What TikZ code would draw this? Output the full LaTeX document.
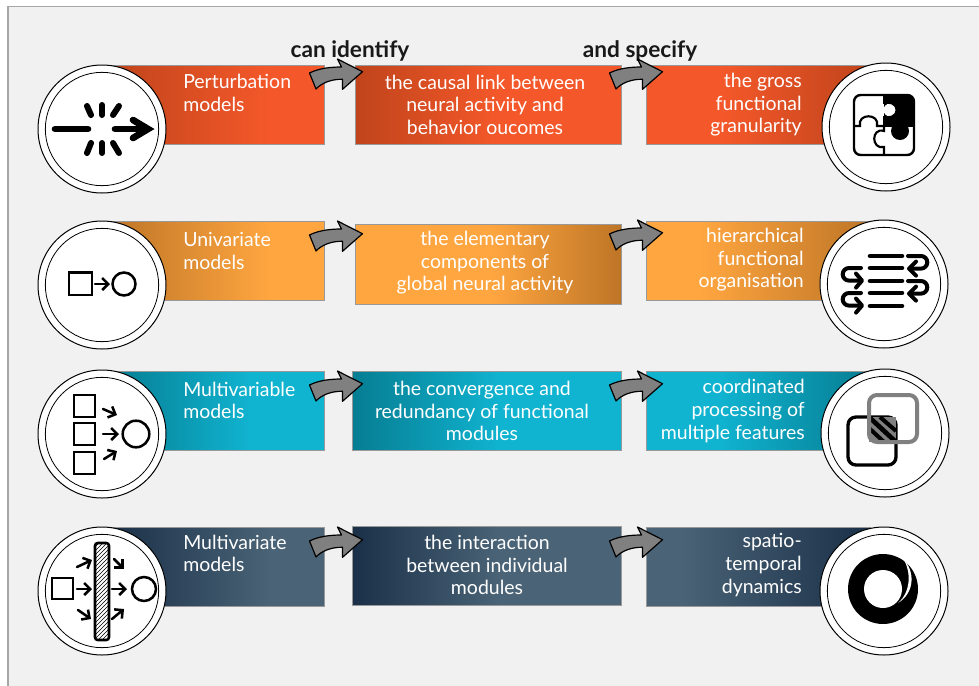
\documentclass[tikz,border=0pt]{standalone}
\usepackage{fontspec}
\setmainfont{Lato}
\usetikzlibrary{fit,patterns,arrows.meta}
\tikzset{
  boxnode/.style={draw=black!40,line width=0.6pt,fit=#1,inner sep=0pt},
  lbl/.style={text=white,font=\fontsize{14.6}{16.9}\selectfont,inner sep=0pt},
  head/.style={font=\fontsize{17}{18}\selectfont\bfseries,inner sep=0pt,text=black!90},
  ringout/.style={circle,draw=black,fill=white,line width=0.75pt,minimum size=96pt,inner sep=0pt},
  ringin/.style={circle,draw=black,line width=0.6pt,minimum size=85pt,inner sep=0pt},
  blockarr/.style={fill=black!50,draw=black,line width=0.9pt,line join=round},
  ico/.style={line width=1.9pt,draw=black},
  thick line/.style={line width=#1,line cap=round,draw=black},
  shaft/.style={line width=1.9pt,draw=black,line cap=round,-{Straight Barb[length=4.5pt,width=9pt,line width=1.9pt]}},
  uturn/.style={line width=3pt,draw=black,line cap=round,line join=round},
}
\definecolor{frame}{HTML}{A6A6A6}
\definecolor{redD}{HTML}{C0441B}\definecolor{redL}{HTML}{F4582A}
\definecolor{orD}{HTML}{BE7526}\definecolor{orL}{HTML}{FFA640}
\definecolor{teD}{HTML}{067D92}\definecolor{teL}{HTML}{10B3D0}
\definecolor{naD}{HTML}{1A3048}\definecolor{naL}{HTML}{4A6376}
% name, x1,y1,x2,y2, gradient start x, gradient end x, colour at start, colour at end
\newcommand{\gbox}[9]{%
  \coordinate (#1-a) at (#2,#3);\coordinate (#1-b) at (#4,#5);
  \fill[#8] (#2,#3) rectangle (#6,#5);
  \shade[left color=#8,right color=#9] (#6,#3) rectangle (#7,#5);
  \fill[#9] (#7,#3) rectangle (#4,#5);
  \node[boxnode={(#1-a)(#1-b)}] (#1) {};
}
\newcommand{\rings}[3]{%
  \node[ringout] (#1) at (#2,#3) {};
  \node[ringin] (#1-in) at (#2,#3) {};
}
\newcommand{\blockarrow}[3]{%
  \coordinate (#1) at (#2,#3);
  \draw[blockarr,shift={(#1)}] (0,0) .. controls (10,-5) and (22,-6) .. (32,-6)
    -- (28,-14) -- (53,-1.3) -- (33,16.3) -- (33,6.3)
    .. controls (22,6) and (12,10) .. (6.5,16) -- cycle;
}
\begin{document}
\begin{tikzpicture}[x=0.75pt,y=-0.75pt]
\clip (0,0) rectangle (979,686);
\fill[white] (0,0) rectangle (979,686);
\draw[frame,fill=black!5.5,line width=1.1pt] (8,6.5) rectangle (1000,720);

% boxes
\gbox{b11}{105}{65}{324}{144}{110}{270}{redD}{redL}
\gbox{b12}{355}{65}{621}{144}{355}{500}{redD}{redL}
\gbox{b13}{646}{65}{870}{144}{720}{870}{redL}{redD}
\gbox{b21}{105}{221}{324}{300}{110}{270}{orD}{orL}
\gbox{b22}{355}{224}{621}{304}{490}{621}{orL}{orD}
\gbox{b23}{646}{221}{870}{300}{700}{870}{orL}{orD}
\gbox{b31}{105}{371}{324}{450}{110}{250}{teD}{teL}
\gbox{b32}{352}{371}{621}{450}{352}{500}{teD}{teL}
\gbox{b33}{646}{371}{870}{450}{720}{870}{teL}{teD}
\gbox{b41}{105}{527}{324}{606}{110}{270}{naD}{naL}
\gbox{b42}{352}{526}{621}{605}{352}{500}{naD}{naL}
\gbox{b43}{646}{527}{870}{606}{680}{870}{naL}{naD}

% labels
\node[lbl,align=left,anchor=west] (t11) at (183,93) {Perturbation\\models};
\node[lbl,align=center] (t12) at (485,104.5) {the causal link between\\neural activity and\\behavior oucomes};
\node[lbl,align=right,anchor=east] (t13) at (802,105) {the gross\\functional\\granularity};
\node[lbl,align=left,anchor=west] (t21) at (183,251) {Univariate\\models};
\node[lbl,align=center] (t22) at (485,263) {the elementary\\components of\\global neural activity};
\node[lbl,align=right,anchor=east] (t23) at (804,260) {hierarchical\\functional\\organisation};
\node[lbl,align=left,anchor=west] (t31) at (183,400.5) {Multivariable\\models};
\node[lbl,align=center] (t32) at (482,411) {the convergence and\\redundancy of functional\\modules};
\node[lbl,align=right,anchor=east] (t33) at (805,411) {coordinated\\processing of\\multiple features};
\node[lbl,align=left,anchor=west] (t41) at (183,553.5) {Multivariate\\models};
\node[lbl,align=center] (t42) at (487,565) {the interaction\\between individual\\modules};
\node[lbl,align=right,anchor=east] (t43) at (802,565) {spatio-\\temporal\\dynamics};

\node[head] (h1) at (350,50.5) {can identify};
\node[head] (h2) at (640,50.5) {and specify};

% block arrows
\blockarrow{a11}{309.5}{73}
\blockarrow{a12}{609.5}{73}
\blockarrow{a21}{309.5}{235}
\blockarrow{a22}{609.5}{234}
\blockarrow{a31}{309.5}{385}
\blockarrow{a32}{609.5}{385}
\blockarrow{a41}{309.5}{541}
\blockarrow{a42}{609.5}{541}

% rings
\rings{c11}{102}{129}
\rings{c13}{886}{127}
\rings{c21}{102}{285}
\rings{c23}{884}{284}
\rings{c31}{102}{434}
\rings{c33}{885}{433}
\rings{c41}{102}{591}
\rings{c43}{884}{591}

% icon: perturbation
\draw[thick line=5pt] (55,129) -- (88,129);
\draw[thick line=5pt] (115,129) -- (145,129);
\draw[line width=5pt,line cap=round,line join=miter] (133,120) -- (148,129) -- (133,138);
\fill (140,122) -- (154,129) -- (140,136) -- cycle;
\foreach \a/\b/\c/\d in {87/106/91/115,102/105/102/115,119/106/113/115,91/143/87/153,102/143/102/153,113/143/119/153}
  \draw[thick line=4.5pt] (\a,\b) -- (\c,\d);

% icon: square to circle
\draw[ico] (69,272.5) rectangle (92,295);
\draw[shaft] (95,284) -- (110,284);
\draw[ico] (124,284) circle (11.5);

% icon: puzzle
\begin{scope}
  \clip[rounded corners=5pt] (854,95) rectangle (914,155);
  \fill[white] (854,95) rectangle (914,155);
  \fill (884,95) rectangle (914,126);
\end{scope}
\fill[white] (890,110) circle (6.5);
\draw[line width=1.6pt] (884,95) -- (884,104);
\draw[line width=1.6pt] (884,116) -- (884,126);
\draw[line width=1.6pt] (884,104) .. controls (888,101) and (896.5,103) .. (896.5,110) .. controls (896.5,117) and (888,119) .. (884,116);
\fill (900,131) circle (9);
\draw[line width=1.6pt] (854,126) -- (860,126) .. controls (857,113) and (880,113) .. (877,126) -- (884,126);
\draw[line width=1.6pt] (884,126) -- (884,131) .. controls (871,127) and (871,150) .. (884,147) -- (884,155);
\draw[line width=1.6pt] (884,126) -- (914,126);
\draw[line width=1.8pt,rounded corners=5pt] (854,95) rectangle (914,155);

% icon: list with turns
\foreach \y in {256,268,281,293,306}
  \draw[thick line=3.4pt] (870,\y) -- (902,\y);
\foreach \y in {268,293}{
  \draw[uturn] (861,\y) -- (849,\y) arc (-90:-270:6.3) -- (861,\y+12.6);
  \draw[uturn] (856,\y+5.6) -- (862,\y+12.6) -- (856,\y+19.6);
}
\foreach \y in {256,281}{
  \draw[uturn] (908,\y) -- (921,\y) arc (-90:90:6.3) -- (910,\y+12.6);
  \draw[uturn] (916,\y+5.6) -- (909,\y+12.6) -- (916,\y+19.6);
}

% icon: multivariable
\foreach \y in {395,423,452}
  \draw[ico] (74,\y) rectangle (95,\y+22);
\draw[ico] (136,434) circle (13.3);
\draw[shaft] (103,434) -- (119,434);
\draw[shaft] (103,409) -- (117,415);
\draw[shaft] (104,459) -- (117,451);

% icon: multivariate
\draw[ico] (52,578) rectangle (73,599);
\draw[ico] (144,589) circle (12);
\draw[ico,pattern=north east lines,pattern color=black,rounded corners=2pt] (95,543) rectangle (109,640);
\draw[shaft] (77,589) -- (92,589);
\draw[shaft] (112,589) -- (127,589);
\draw[shaft] (77,567) -- (92,560);
\draw[shaft] (78,610) -- (91,619);
\draw[shaft] (114,559) -- (124,569);
\draw[shaft] (112,619) -- (124,609);

% icon: overlap
\draw[line width=2.5pt,rounded corners=6pt] (848,417) rectangle (896,465);
\begin{scope}
  \clip (869,417) rectangle (896,442);
  \fill[black!50] (869,417) rectangle (896,442);
  \draw[line width=3.5pt] (869,417) -- (896,442);
  \draw[line width=3pt] (880,417) -- (896,431);
  \draw[line width=3pt] (869,428) -- (884,442);
\end{scope}
\draw[black!50,line width=3pt,rounded corners=6pt] (869,395) rectangle (917,442);

% icon: dynamics
\fill (883,589) circle (35);
\fill[white] (883,589) circle (19);
\fill[white] (904,560) .. controls (914,570) and (916,592) .. (898,603)
  .. controls (911,592) and (911,572) .. (904,560) -- cycle;
\end{tikzpicture}
\end{document}
